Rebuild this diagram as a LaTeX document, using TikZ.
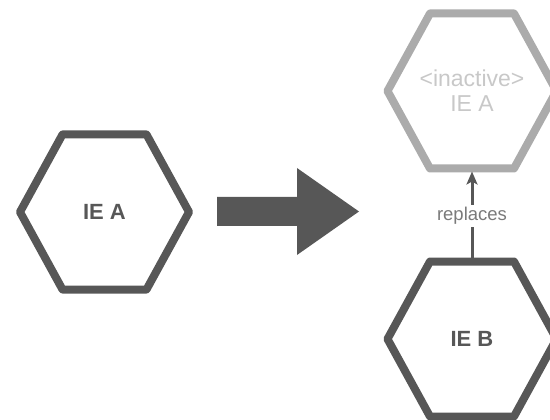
\documentclass[tikz,border=0pt]{standalone}
\usepackage{fontspec}
\setmainfont{Liberation Sans}
\usetikzlibrary{calc,arrows.meta}
\definecolor{ink}{HTML}{575757}
\definecolor{faded}{HTML}{ABABAB}
\definecolor{fadedtext}{HTML}{C8C8C8}
\definecolor{labeltext}{HTML}{7A7A7A}
\tikzset{
  hexline/.style={line width=8pt, line join=round},
  hexlabel/.style={font=\fontsize{23}{25}\selectfont, align=center, inner sep=0pt},
  strong/.style={font=\fontsize{22}{25}\bfseries},
}
% flat-topped hexagon around a named node
\newcommand\hexaround[2]{%
  \draw[#2] ($(#1)+(-84.5,0)$) -- ($(#1)+(-42,-77.5)$) -- ($(#1)+(42,-77.5)$)
    -- ($(#1)+(84.5,0)$) -- ($(#1)+(42,77.5)$) -- ($(#1)+(-42,77.5)$) -- cycle;}
\begin{document}
\begin{tikzpicture}[x=1pt,y=-1pt]
\useasboundingbox (0,0) rectangle (550,420);
% original element
\node[hexlabel, strong, text=ink] (ieA) at (104.5,212) {IE A};
\hexaround{ieA}{hexline, draw=ink}
% transition arrow
\fill[ink] (217,197) -- (297,197) -- (297,168) -- (359,211.5) -- (297,255) -- (297,226) -- (217,226) -- cycle;
% inactive element
\node[hexlabel, text=fadedtext] (ieAold) at (472,91) {<inactive>\\IE A};
\hexaround{ieAold}{hexline, draw=faded}
\coordinate (oldBottom) at (472,171.5);
% new element
\node[hexlabel, strong, text=ink] (ieB) at (472,339) {IE B};
\hexaround{ieB}{hexline, draw=ink}
% replacement relation
\coordinate (newTop) at ($(ieB)+(0,-78.5)$);
\draw[ink, line width=3pt, -{Stealth[length=13pt,width=11pt,inset=3pt]}] (newTop) -- (oldBottom)
  node[pos=0.5, fill=white, text=labeltext, font=\fontsize{18.5}{20}\selectfont, inner sep=2pt] (rep) {replaces};
\end{tikzpicture}
\end{document}
